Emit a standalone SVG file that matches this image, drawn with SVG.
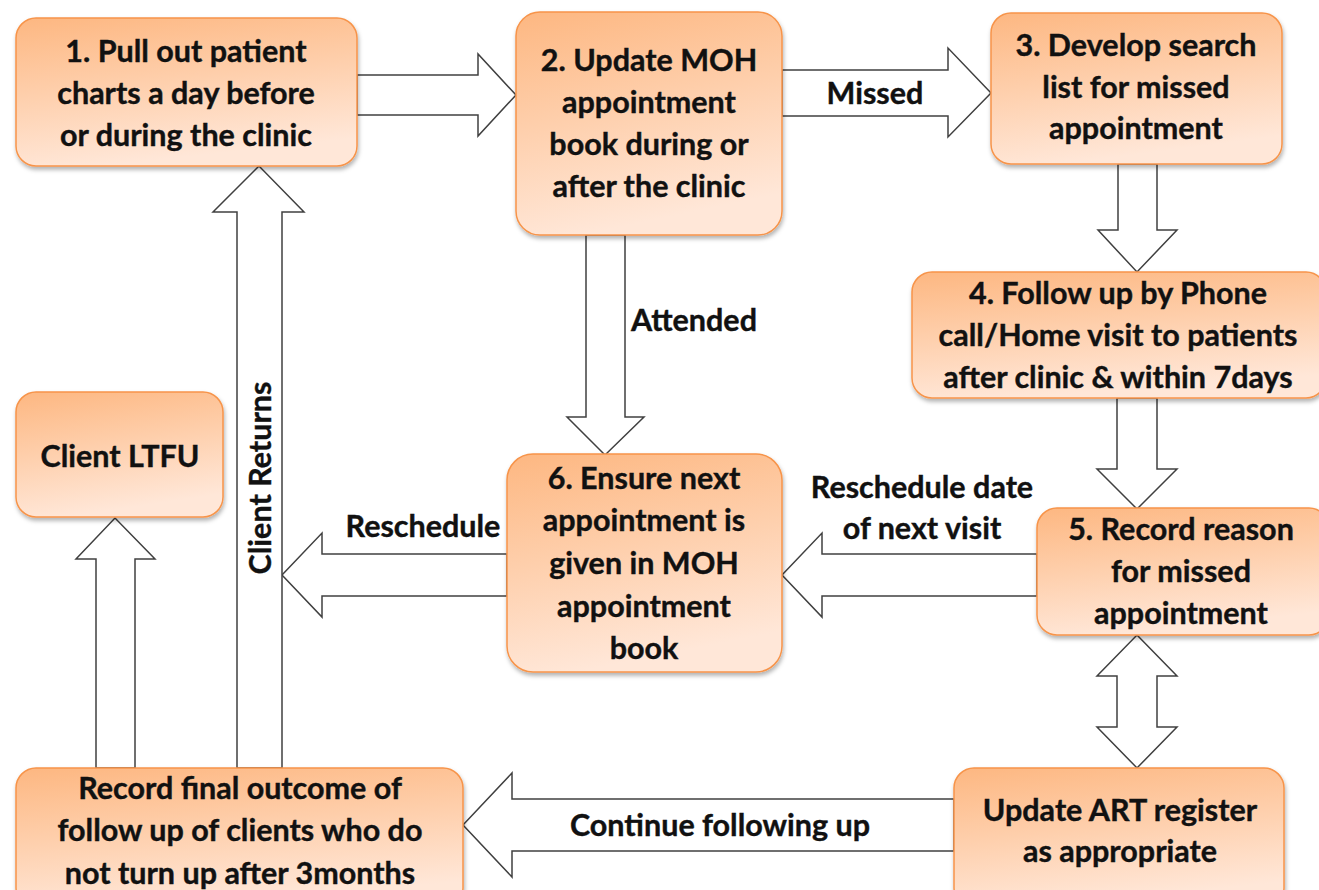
<svg xmlns="http://www.w3.org/2000/svg" width="1319" height="890" viewBox="0 0 1319 890">
<defs>
<linearGradient id="g" x1="0" y1="0" x2="0.25" y2="1">
<stop offset="0" stop-color="#FDB781"/>
<stop offset="0.5" stop-color="#FECFAC"/>
<stop offset="1" stop-color="#FFE7D8"/>
</linearGradient>
<filter id="sh" x="-10%" y="-10%" width="120%" height="130%">
<feDropShadow dx="1" dy="3" stdDeviation="2" flood-color="#000" flood-opacity="0.3"/>
</filter>
<style>
.n{fill:url(#g);stroke:#F7944A;stroke-width:1.5;filter:url(#sh)}
.a{fill:#fff;stroke:#404040;stroke-width:1.5;stroke-linejoin:miter}
text{font-family:Lato,"Liberation Sans",sans-serif;font-weight:bold;font-size:30.5px;fill:#111;stroke:#111;stroke-width:0.4;text-anchor:middle}
</style>
</defs>
<rect width="1319" height="890" fill="#fff"/>
<g id="connectors">
<path class="a" d="M357,75 H478 V54 L516,95 L478,136 V115 H357 Z"/>
<path class="a" d="M782,70 H948 V48 L991,93 L948,137 V116 H782 Z"/>
<path class="a" d="M1118,164 V230 H1098 L1137,272 L1177,230 H1157 V164 Z"/>
<path class="a" d="M586,235 V417 H567 L605,455 L644,417 H625 V235 Z"/>
<path class="a" d="M1117,398 V469 H1097 L1137,509 L1177,469 H1157 V398 Z"/>
<path class="a" d="M1037,554 H822 V533 L782,575 L822,617 V596 H1037 Z"/>
<path class="a" d="M507,554 H322 V533 L282,575 L322,617 V596 H507 Z"/>
<path class="a" d="M237,768 V212 H213 L259,166 L304,212 H282 V768 Z"/>
<path class="a" d="M96,768 V559 H76 L115,518 L155,559 H135 V768 Z"/>
<path class="a" d="M954,799 H512 V773 L463,825 L512,877 V851 H954 Z"/>
<path class="a" d="M1137,635 L1177,676 H1157 V727 H1177 L1137,768 L1097,727 H1117 V676 H1097 Z"/>
<text x="875" y="104">Missed</text>
<text x="694" y="331">Attended</text>
<text x="922" y="498">Reschedule date</text>
<text x="922" y="539">of next visit</text>
<text x="423" y="537">Reschedule</text>
<text transform="translate(271,478) rotate(-90)">Client Returns</text>
<text x="720" y="836">Continue following up</text>
</g>
<g id="n1">
<rect class="n" x="16" y="18" width="341" height="148" rx="20"/>
<text x="186" y="62">1. Pull out patient</text>
<text x="186" y="104">charts a day before</text>
<text x="186" y="146">or during the clinic</text>
</g>
<g id="n2">
<rect class="n" x="516" y="12" width="266" height="223" rx="24"/>
<text x="649" y="71">2. Update MOH</text>
<text x="649" y="113">appointment</text>
<text x="649" y="155">book during or</text>
<text x="649" y="197">after the clinic</text>
</g>
<g id="n3">
<rect class="n" x="991" y="13" width="291" height="151" rx="20"/>
<text x="1136" y="56">3. Develop search</text>
<text x="1136" y="98">list for missed</text>
<text x="1136" y="139">appointment</text>
</g>
<g id="n4">
<rect class="n" x="912" y="272" width="414" height="126" rx="20"/>
<text x="1118" y="304">4. Follow up by Phone</text>
<text x="1118" y="346">call/Home visit to patients</text>
<text x="1118" y="388">after clinic &amp; within 7days</text>
</g>
<g id="n5">
<rect class="n" x="1037" y="508" width="292" height="127" rx="20"/>
<text x="1181" y="540">5. Record reason</text>
<text x="1181" y="582">for missed</text>
<text x="1181" y="624">appointment</text>
</g>
<g id="n6">
<rect class="n" x="507" y="454" width="275" height="218" rx="26"/>
<text x="644" y="489">6. Ensure next</text>
<text x="644" y="531">appointment is</text>
<text x="644" y="574">given in MOH</text>
<text x="644" y="617">appointment</text>
<text x="644" y="659">book</text>
</g>
<g id="n7">
<rect class="n" x="16" y="392" width="207" height="125" rx="20"/>
<text x="120" y="467">Client LTFU</text>
</g>
<g id="n8">
<rect class="n" x="16" y="768" width="447" height="140" rx="20"/>
<text x="240" y="799">Record final outcome of</text>
<text x="240" y="841">follow up of clients who do</text>
<text x="240" y="884">not turn up after 3months</text>
</g>
<g id="n9">
<rect class="n" x="954" y="768" width="330" height="140" rx="20"/>
<text x="1120" y="821">Update ART register</text>
<text x="1120" y="862">as appropriate</text>
</g>
</svg>
